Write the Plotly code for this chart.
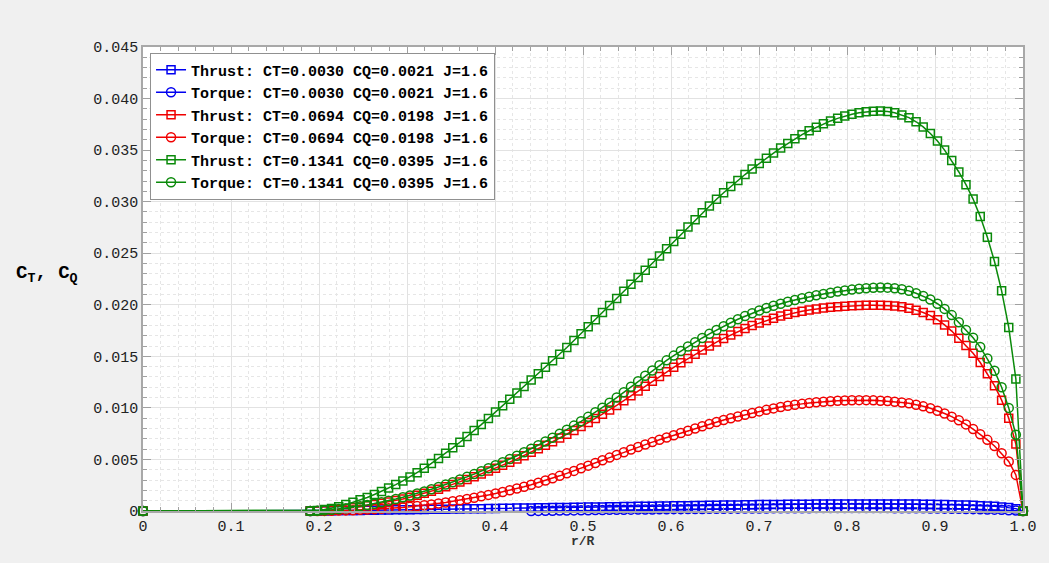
import plotly.graph_objects as go

# Radial stations r/R (hub point, then blade stations from 0.19 to the tip)
r_over_R = [
    0.0,
    0.1900, 0.1981, 0.2062, 0.2143, 0.2224, 0.2305, 0.2386, 0.2467, 0.2548, 0.2629,
    0.2710, 0.2791, 0.2872, 0.2953, 0.3034, 0.3115, 0.3196, 0.3277, 0.3358, 0.3439,
    0.3520, 0.3601, 0.3682, 0.3763, 0.3844, 0.3925, 0.4006, 0.4087, 0.4168, 0.4249,
    0.4330, 0.4411, 0.4492, 0.4573, 0.4654, 0.4735, 0.4816, 0.4897, 0.4978, 0.5059,
    0.5140, 0.5221, 0.5302, 0.5383, 0.5464, 0.5545, 0.5626, 0.5707, 0.5788, 0.5869,
    0.5950, 0.6031, 0.6112, 0.6193, 0.6274, 0.6355, 0.6436, 0.6517, 0.6598, 0.6679,
    0.6760, 0.6841, 0.6922, 0.7003, 0.7084, 0.7165, 0.7246, 0.7327, 0.7408, 0.7489,
    0.7570, 0.7651, 0.7732, 0.7813, 0.7894, 0.7975, 0.8056, 0.8137, 0.8218, 0.8299,
    0.8380, 0.8461, 0.8542, 0.8623, 0.8704, 0.8785, 0.8866, 0.8947, 0.9028, 0.9109,
    0.9190, 0.9271, 0.9352, 0.9433, 0.9514, 0.9595, 0.9676, 0.9757, 0.9838, 0.9919,
    1.0000,
]

# Blue case: CT=0.0030 CQ=0.0021
thrust_blue = [
    0.0,
    0.00000, 0.00001, 0.00002, 0.00003, 0.00004, 0.00004, 0.00005, 0.00006, 0.00007, 0.00008,
    0.00009, 0.00010, 0.00011, 0.00012, 0.00013, 0.00014, 0.00015, 0.00016, 0.00017, 0.00018,
    0.00019, 0.00020, 0.00021, 0.00022, 0.00023, 0.00024, 0.00025, 0.00026, 0.00027, 0.00028,
    0.00029, 0.00030, 0.00031, 0.00032, 0.00033, 0.00034, 0.00035, 0.00036, 0.00037, 0.00038,
    0.00039, 0.00040, 0.00041, 0.00042, 0.00043, 0.00044, 0.00045, 0.00046, 0.00047, 0.00048,
    0.00049, 0.00050, 0.00051, 0.00052, 0.00053, 0.00054, 0.00055, 0.00056, 0.00057, 0.00058,
    0.00059, 0.00060, 0.00061, 0.00062, 0.00063, 0.00063, 0.00064, 0.00065, 0.00065, 0.00066,
    0.00066, 0.00067, 0.00067, 0.00068, 0.00068, 0.00068, 0.00069, 0.00069, 0.00069, 0.00069,
    0.00069, 0.00069, 0.00068, 0.00068, 0.00067, 0.00067, 0.00066, 0.00065, 0.00064, 0.00063,
    0.00061, 0.00059, 0.00057, 0.00055, 0.00052, 0.00049, 0.00045, 0.00040, 0.00033, 0.00023,
    0.0,
]
torque_blue = [
    0.0,
    0.00000, -0.00008, -0.00012, -0.00015, -0.00017, -0.00018, -0.00019, -0.00019, -0.00019, -0.00019,
    -0.00018, -0.00018, -0.00017, -0.00017, -0.00016, -0.00015, -0.00015, -0.00014, -0.00013, -0.00012,
    -0.00011, -0.00010, -0.00009, -0.00008, -0.00007, -0.00006, -0.00005, -0.00004, -0.00003, -0.00002,
    -0.00001, 0.00000, 0.00001, 0.00002, 0.00003, 0.00004, 0.00005, 0.00006, 0.00007, 0.00008,
    0.00009, 0.00010, 0.00011, 0.00011, 0.00012, 0.00013, 0.00014, 0.00015, 0.00015, 0.00016,
    0.00017, 0.00018, 0.00018, 0.00019, 0.00020, 0.00020, 0.00021, 0.00022, 0.00022, 0.00023,
    0.00023, 0.00024, 0.00024, 0.00025, 0.00025, 0.00026, 0.00026, 0.00026, 0.00027, 0.00027,
    0.00027, 0.00028, 0.00028, 0.00028, 0.00028, 0.00028, 0.00028, 0.00028, 0.00028, 0.00028,
    0.00028, 0.00028, 0.00027, 0.00027, 0.00027, 0.00026, 0.00026, 0.00025, 0.00024, 0.00023,
    0.00022, 0.00021, 0.00020, 0.00018, 0.00017, 0.00015, 0.00013, 0.00011, 0.00008, 0.00005,
    0.0,
]

# Red case: CT=0.0694 CQ=0.0198
thrust_red = [
    0.0,
    0.00000, 0.00002, 0.00005, 0.00010, 0.00016, 0.00023, 0.00031, 0.00040, 0.00050, 0.00062,
    0.00075, 0.00088, 0.00102, 0.00117, 0.00134, 0.00152, 0.00171, 0.00191, 0.00212, 0.00234,
    0.00257, 0.00281, 0.00306, 0.00333, 0.00360, 0.00387, 0.00415, 0.00444, 0.00474, 0.00505,
    0.00537, 0.00570, 0.00603, 0.00637, 0.00672, 0.00708, 0.00744, 0.00781, 0.00819, 0.00858,
    0.00898, 0.00938, 0.00980, 0.01024, 0.01070, 0.01117, 0.01164, 0.01211, 0.01258, 0.01305,
    0.01350, 0.01394, 0.01437, 0.01478, 0.01519, 0.01561, 0.01600, 0.01638, 0.01674, 0.01708,
    0.01740, 0.01770, 0.01798, 0.01824, 0.01848, 0.01870, 0.01890, 0.01908, 0.01924, 0.01938,
    0.01950, 0.01960, 0.01968, 0.01975, 0.01981, 0.01986, 0.01990, 0.01993, 0.01995, 0.01996,
    0.01996, 0.01994, 0.01989, 0.01980, 0.01967, 0.01948, 0.01925, 0.01895, 0.01855, 0.01805,
    0.01745, 0.01675, 0.01605, 0.01530, 0.01440, 0.01330, 0.01215, 0.01075, 0.00900, 0.00650,
    0.0,
]
torque_red = [
    0.0,
    0.00000, 0.00000, 0.00001, 0.00002, 0.00004, 0.00006, 0.00008, 0.00011, 0.00014, 0.00018,
    0.00022, 0.00026, 0.00030, 0.00035, 0.00041, 0.00048, 0.00056, 0.00064, 0.00073, 0.00083,
    0.00094, 0.00105, 0.00117, 0.00129, 0.00142, 0.00156, 0.00170, 0.00185, 0.00201, 0.00218,
    0.00236, 0.00255, 0.00275, 0.00296, 0.00318, 0.00341, 0.00365, 0.00389, 0.00415, 0.00440,
    0.00466, 0.00492, 0.00518, 0.00544, 0.00570, 0.00596, 0.00621, 0.00645, 0.00668, 0.00691,
    0.00713, 0.00735, 0.00757, 0.00778, 0.00800, 0.00822, 0.00843, 0.00863, 0.00882, 0.00900,
    0.00917, 0.00933, 0.00950, 0.00966, 0.00981, 0.00995, 0.01008, 0.01020, 0.01030, 0.01039,
    0.01047, 0.01054, 0.01060, 0.01065, 0.01069, 0.01072, 0.01074, 0.01075, 0.01075, 0.01073,
    0.01070, 0.01066, 0.01060, 0.01053, 0.01044, 0.01031, 0.01015, 0.00996, 0.00973, 0.00946,
    0.00915, 0.00880, 0.00840, 0.00795, 0.00745, 0.00690, 0.00630, 0.00560, 0.00480, 0.00350,
    0.0,
]

# Green case: CT=0.1341 CQ=0.0395
thrust_green = [
    0.0,
    0.00000, 0.00006, 0.00014, 0.00025, 0.00042, 0.00062, 0.00084, 0.00108, 0.00131, 0.00160,
    0.00190, 0.00222, 0.00256, 0.00292, 0.00330, 0.00370, 0.00414, 0.00461, 0.00510, 0.00560,
    0.00613, 0.00667, 0.00722, 0.00780, 0.00838, 0.00898, 0.00960, 0.01021, 0.01083, 0.01145,
    0.01208, 0.01270, 0.01332, 0.01394, 0.01457, 0.01520, 0.01585, 0.01653, 0.01720, 0.01788,
    0.01856, 0.01924, 0.01993, 0.02061, 0.02130, 0.02198, 0.02265, 0.02334, 0.02403, 0.02472,
    0.02543, 0.02614, 0.02685, 0.02755, 0.02824, 0.02892, 0.02958, 0.03023, 0.03086, 0.03147,
    0.03206, 0.03263, 0.03318, 0.03371, 0.03422, 0.03471, 0.03520, 0.03565, 0.03610, 0.03650,
    0.03688, 0.03722, 0.03755, 0.03783, 0.03808, 0.03830, 0.03848, 0.03862, 0.03872, 0.03878,
    0.03880, 0.03875, 0.03862, 0.03840, 0.03815, 0.03775, 0.03725, 0.03662, 0.03588, 0.03500,
    0.03400, 0.03288, 0.03165, 0.03025, 0.02855, 0.02655, 0.02420, 0.02135, 0.01780, 0.01280,
    0.0,
]
torque_green = [
    0.0,
    0.00000, 0.00002, 0.00006, 0.00012, 0.00019, 0.00027, 0.00036, 0.00046, 0.00058, 0.00071,
    0.00085, 0.00100, 0.00116, 0.00133, 0.00151, 0.00170, 0.00190, 0.00211, 0.00233, 0.00256,
    0.00280, 0.00305, 0.00331, 0.00358, 0.00386, 0.00414, 0.00443, 0.00473, 0.00504, 0.00536,
    0.00569, 0.00603, 0.00638, 0.00674, 0.00711, 0.00749, 0.00788, 0.00828, 0.00870, 0.00913,
    0.00957, 0.01002, 0.01050, 0.01100, 0.01152, 0.01205, 0.01258, 0.01311, 0.01363, 0.01413,
    0.01461, 0.01507, 0.01551, 0.01595, 0.01637, 0.01678, 0.01718, 0.01756, 0.01792, 0.01826,
    0.01860, 0.01890, 0.01918, 0.01944, 0.01968, 0.01990, 0.02010, 0.02029, 0.02047, 0.02063,
    0.02078, 0.02092, 0.02105, 0.02117, 0.02128, 0.02138, 0.02147, 0.02155, 0.02161, 0.02165,
    0.02167, 0.02166, 0.02160, 0.02150, 0.02135, 0.02112, 0.02085, 0.02052, 0.02010, 0.01960,
    0.01900, 0.01830, 0.01755, 0.01680, 0.01590, 0.01480, 0.01360, 0.01200, 0.01000, 0.00740,
    0.0,
]

legend_names = [
    "Thrust: CT=0.0030 CQ=0.0021 J=1.6",
    "Torque: CT=0.0030 CQ=0.0021 J=1.6",
    "Thrust: CT=0.0694 CQ=0.0198 J=1.6",
    "Torque: CT=0.0694 CQ=0.0198 J=1.6",
    "Thrust: CT=0.1341 CQ=0.0395 J=1.6",
    "Torque: CT=0.1341 CQ=0.0395 J=1.6",
]

x_tick_vals = [0.0, 0.1, 0.2, 0.3, 0.4, 0.5, 0.6, 0.7, 0.8, 0.9, 1.0]
x_tick_text = ["0", "0.1", "0.2", "0.3", "0.4", "0.5", "0.6", "0.7", "0.8", "0.9", "1.0"]
y_tick_vals = [0.0, 0.005, 0.010, 0.015, 0.020, 0.025, 0.030, 0.035, 0.040, 0.045]
y_tick_text = ["0", "0.005", "0.010", "0.015", "0.020", "0.025", "0.030", "0.035", "0.040", "0.045"]

BLUE = "#0000f0"
RED = "#f00000"
GREEN = "#0a8a0a"
MONO = "Liberation Mono"

series = [
    (thrust_blue, BLUE, "square-open", 8),
    (torque_blue, BLUE, "circle-open", 9),
    (thrust_red, RED, "square-open", 8),
    (torque_red, RED, "circle-open", 9),
    (thrust_green, GREEN, "square-open", 8),
    (torque_green, GREEN, "circle-open", 9),
]

fig = go.Figure()
for name, (vals, color, symbol, size) in zip(legend_names, series):
    fig.add_trace(go.Scatter(
        x=r_over_R, y=vals, name=name, mode="lines+markers",
        line=dict(color=color, width=1.5),
        marker=dict(symbol=symbol, size=size, color=color, line=dict(color=color, width=1.5)),
        cliponaxis=False,
    ))

axis_common = dict(
    ticks="inside", ticklen=8, tickwidth=1, tickcolor="#a0a0a0",
    showline=True, linecolor="#a8a8a8", linewidth=1.5, mirror="ticks",
    showgrid=True, gridcolor="#e2e2e2", gridwidth=1, zeroline=False,
    tickfont=dict(family=MONO, size=15, color="#222222"),
)

fig.update_layout(
    width=1049, height=563,
    margin=dict(l=143, r=21, t=47, b=52),
    paper_bgcolor="#f0f0f0", plot_bgcolor="white",
    showlegend=True,
    legend=dict(
        x=0.008, y=0.988, xanchor="left", yanchor="top",
        bgcolor="white", bordercolor="#909090", borderwidth=1,
        font=dict(family=MONO, size=15, color="black", weight="bold"),
        tracegroupgap=0, itemwidth=30,
    ),
    xaxis=dict(
        range=[0, 1.0], tickvals=x_tick_vals, ticktext=x_tick_text,
        minor=dict(dtick=0.02, ticks="inside", ticklen=4, tickcolor="#a0a0a0",
                   showgrid=True, gridcolor="#e6e6e6", griddash="dot"),
        **axis_common,
    ),
    yaxis=dict(
        range=[0, 0.045], tickvals=y_tick_vals, ticktext=y_tick_text,
        minor=dict(dtick=0.001, ticks="inside", ticklen=4, tickcolor="#a0a0a0",
                   showgrid=True, gridcolor="#e6e6e6", griddash="dot"),
        **axis_common,
    ),
    annotations=[
        dict(text="C<sub>T</sub>, C<sub>Q</sub>", xref="paper", yref="paper",
             x=-0.147, y=0.511, xanchor="left", yanchor="middle", showarrow=False,
             font=dict(family=MONO, size=19, color="black", weight="bold")),
        dict(text="r/R", xref="paper", yref="paper",
             x=0.5, y=-0.066, xanchor="center", yanchor="middle", showarrow=False,
             font=dict(family=MONO, size=13, color="#333333", weight="bold")),
    ],
)

fig.write_html("out.html")
